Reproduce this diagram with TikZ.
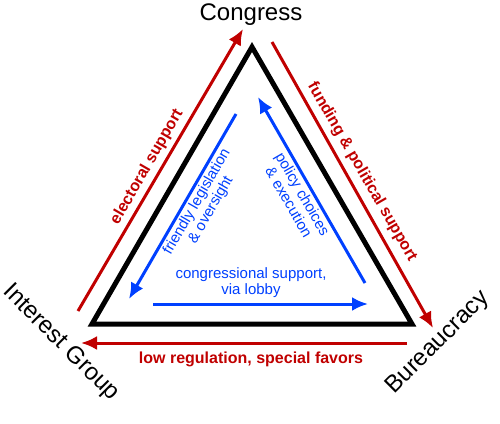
\documentclass[tikz,border=0pt]{standalone}
\usepackage{fontspec}
\setmainfont{Liberation Sans}
\usetikzlibrary{arrows.meta}

\definecolor{supred}{RGB}{192,0,0}
\definecolor{polblue}{RGB}{0,64,255}

\tikzset{
  corner/.style={font=\fontsize{24}{26}\selectfont},
  redlabel/.style={text=supred,font=\fontsize{16}{18}\selectfont\bfseries},
  bluelabel/.style={text=polblue,font=\fontsize{15}{16}\selectfont,align=center,inner sep=1pt},
  redarrow/.style={draw=supred,line width=3pt,-{Latex[length=16pt,width=14pt]}},
  bluearrow/.style={draw=polblue,line width=3pt,-{Latex[length=16pt,width=14pt]}}
}

\begin{document}
\begin{tikzpicture}[x=1pt,y=-1pt]
\useasboundingbox (0,0) rectangle (500,423);

% Triangle
\coordinate (cong) at (252,47);
\coordinate (intg) at (92,324);
\coordinate (bur) at (412,324);

\draw[line width=5pt,line join=miter] (cong)--(intg)--(bur)--cycle;

\node[corner] (congname) at (251,15) {Congress};
\node[corner,rotate=-45] (intgname) at (61,343) {Interest Group};
\node[corner,rotate=45] (burname) at (438,343) {Bureaucracy};


% Outer red arrows
\coordinate (r1a) at (78,311);
\coordinate (r1b) at (243,29);
\coordinate (r2a) at (272,42);
\coordinate (r2b) at (433,328);
\coordinate (r3a) at (407,343);
\coordinate (r3b) at (81,343);

\draw[redarrow] (r1a)--(r1b);
\draw[redarrow] (r2a)--(r2b);
\draw[redarrow] (r3a)--(r3b);

\node[redlabel,rotate=60] (elect) at (147,167) {electoral support};
\node[redlabel,rotate=-60] (fund) at (362,172) {funding \& political support};
\node[redlabel] (lowreg) at (251,359) {low regulation, special favors};


% Inner blue arrows
\coordinate (b1a) at (236,114);
\coordinate (b1b) at (129,299);
\coordinate (b2a) at (365,283);
\coordinate (b2b) at (258,97);
\coordinate (b3a) at (153,304);
\coordinate (b3b) at (368,304);

\draw[bluearrow] (b1a)--(b1b);
\draw[bluearrow] (b2a)--(b2b);
\draw[bluearrow] (b3a)--(b3b);

\node[bluelabel,rotate=60] (friend) at (204,206) {friendly legislation\\\& oversight};
\node[bluelabel,rotate=-60] (policy) at (296,198) {policy choices\\\& execution};
\node[bluelabel] (lobby) at (251,283) {congressional support,\\via lobby};

\end{tikzpicture}
\end{document}
